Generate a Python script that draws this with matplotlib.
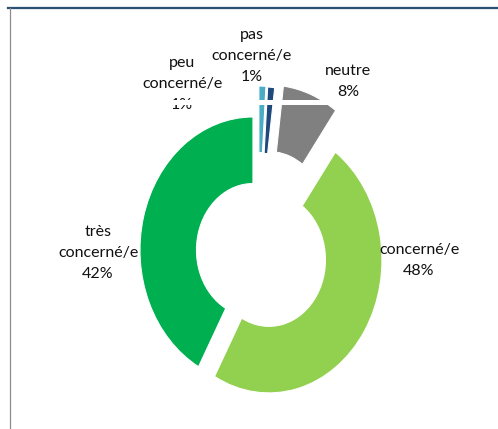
import matplotlib
matplotlib.use("Agg")
import matplotlib.pyplot as plt
from matplotlib.lines import Line2D
from matplotlib.patches import Rectangle

# data (clockwise from 12 o'clock)
categories = ["peu\nconcerné/e", "pas\nconcerné/e", "neutre", "concerné/e", "très\nconcerné/e"]
shares = [1, 1, 8, 48, 42]
colors = ["#4BACC6", "#1F497D", "#808080", "#92D050", "#00B050"]
explode = [0.244, 0.24, 0.27, 0.115, 0.046]

W, H = 498, 429
CX, CY, SX, SY = 258, 251.6, 113, 133.1   # pie centre / radius in pixels (stretched vertically)
X0, X1, Y0, Y1 = -1.5, 1.5, -1.3, 1.5

# label centres in pixels
label_pos = [(182, 84), (252, 56), (348, 81.5), (419, 260.5), (98, 253)]


def fx(px):
    return px / W


def fy(py):
    return 1 - py / H


def main():
    plt.rcParams["font.family"] = ["Lato", "DejaVu Sans"]
    fig = plt.figure(figsize=(W / 100, H / 100), dpi=100)
    ax = fig.add_axes([fx(CX + X0 * SX), fy(CY - Y0 * SY),
                       (X1 - X0) * SX / W, (Y1 - Y0) * SY / H])
    ax.pie(shares, colors=colors, explode=explode, startangle=90, counterclock=False,
           radius=1, wedgeprops=dict(width=0.5, edgecolor="white", linewidth=0.8))
    ax.set_aspect("auto")
    ax.set_xlim(X0, X1); ax.set_ylim(Y0, Y1)
    ax.axis("off")

    for cat, v, (px, py) in zip(categories, shares, label_pos):
        fig.text(fx(px), fy(py), f"{cat}\n{v}%", ha="center", va="center",
                 fontsize=11.5, linespacing=1.65, color="#111111", zorder=3)

    # white strip that cuts the top slices in the original
    fig.add_artist(Rectangle((fx(160), fy(105)), 180 / W, 5 / H, transform=fig.transFigure,
                             facecolor="white", edgecolor="none", zorder=4))

    # frame remnants
    fig.add_artist(Line2D([fx(8), 1], [fy(8), fy(8)], color="#2B4F72", lw=1.6, zorder=5))
    fig.add_artist(Line2D([fx(9.5), fx(9.5)], [fy(8), 0], color="#8C8C8C", lw=0.9, zorder=5))

    fig.savefig("out.png", dpi=100)


if __name__ == "__main__":
    main()
